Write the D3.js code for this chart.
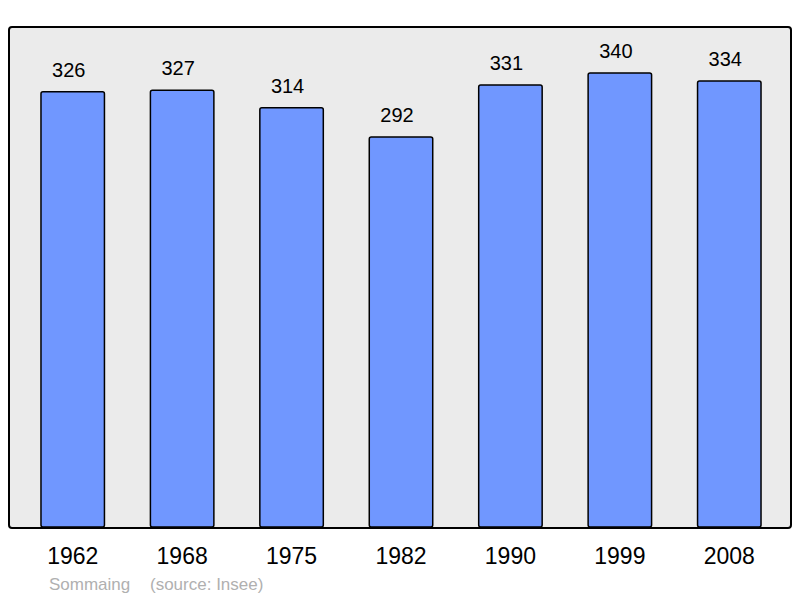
<!DOCTYPE html>
<html>
<head>
<meta charset="utf-8">
<script src="https://cdn.jsdelivr.net/npm/d3@7"></script>
<style>
  body { margin: 0; background: #fff; }
  text { font-family: "Liberation Sans", Arial, sans-serif; }
</style>
</head>
<body>
<div id="chart"></div>
<script>
var years = ['1962', '1968', '1975', '1982', '1990', '1999', '2008'];
var population = [326, 327, 314, 292, 331, 340, 334];
var commune = 'Sommaing';
var source = '(source: Insee)';

var w = 800, h = 598;

var svg = d3.select('#chart').append('svg')
  .attr('width', w)
  .attr('height', h);

// grey panel
svg.append('rect')
  .attr('x', 9).attr('y', 27)
  .attr('width', 782).attr('height', 501)
  .attr('rx', 3)
  .attr('fill', '#ebebeb')
  .attr('stroke', '#000')
  .attr('stroke-width', 2);

var x = d3.scaleBand()
  .domain(years)
  .range([18, 784])
  .paddingInner(0.42)
  .paddingOuter(0.21);

var y = d3.scaleLinear()
  .domain([0, 340])
  .range([527, 73]);

svg.selectAll('.bar')
  .data(population)
  .enter().append('rect')
  .attr('class', 'bar')
  .attr('x', function(d, i) { return x(years[i]); })
  .attr('y', function(d) { return y(d); })
  .attr('width', x.bandwidth())
  .attr('height', function(d) { return y(0) - y(d); })
  .attr('rx', 2)
  .attr('fill', '#7097ff')
  .attr('stroke', '#000')
  .attr('stroke-width', 1.5);

// values above bars (sit a bit left of centre in the original)
svg.selectAll('.val')
  .data(population)
  .enter().append('text')
  .attr('class', 'val')
  .attr('x', function(d, i) { return x(years[i]) + x.bandwidth() / 2 - 4; })
  .attr('y', function(d) { return y(d) - 15; })
  .attr('text-anchor', 'middle')
  .attr('font-size', 20)
  .attr('fill', '#000')
  .text(function(d) { return d; });

// year labels
svg.selectAll('.yr')
  .data(years)
  .enter().append('text')
  .attr('class', 'yr')
  .attr('x', function(d) { return x(d) + x.bandwidth() / 2; })
  .attr('y', 564)
  .attr('text-anchor', 'middle')
  .attr('font-size', 23)
  .attr('fill', '#000')
  .text(function(d) { return d; });

svg.append('text')
  .attr('x', 49).attr('y', 590)
  .attr('font-size', 17)
  .attr('fill', '#b0b0b0')
  .text(commune);

svg.append('text')
  .attr('x', 150).attr('y', 590)
  .attr('font-size', 17)
  .attr('fill', '#b0b0b0')
  .text(source);
</script>
</body>
</html>
